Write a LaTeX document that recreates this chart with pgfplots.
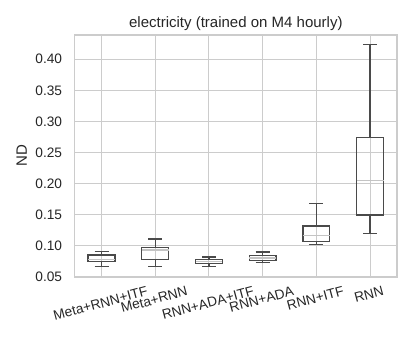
\documentclass[border=0pt]{standalone}
\usepackage{pgfplots}
\pgfplotsset{compat=1.18}
\usepgfplotslibrary{statistics}
\usepackage{fontspec}
\setmainfont{Liberation Sans}
\definecolor{txt}{HTML}{262626}
\definecolor{gridc}{HTML}{CCCCCC}
\definecolor{boxc}{HTML}{4A4A4A}
\definecolor{medc}{HTML}{C4C4C4}
\newlength\lw
\newcommand\xl[1]{\settowidth\lw{#1}\hspace*{-0.0347\lw}\raisebox{-0.134\lw}{#1}\hspace*{0.0347\lw}}
\pgfplotsset{
  mybox/.style={mark=none, solid, draw=boxc, line width=1.3pt,
    boxplot/every median/.style={draw=medc, line width=1.3pt}},
}
\begin{document}
\begin{tikzpicture}
\useasboundingbox (0pt,0pt) rectangle (413pt,344pt);
\begin{axis}[
  at={(74.7pt,67pt)}, anchor=south west,
  width=322.3pt, height=242pt, scale only axis,
  xmin=0.5, xmax=6.5, ymin=0.05, ymax=0.439,
  xtick={1,2,3,4,5,6},
  xticklabels={\xl{Meta+RNN+ITF},\xl{Meta+RNN},\xl{RNN+ADA+ITF},\xl{RNN+ADA},\xl{RNN+ITF},\xl{RNN}},
  ytick={0.05,0.10,0.15,0.20,0.25,0.30,0.35,0.40},
  yticklabel style={/pgf/number format/.cd, fixed, fixed zerofill, precision=2, /tikz/.cd, anchor=east, inner sep=0pt, xshift=-12.4pt},
  /pgf/number format/assume math mode=true,
  xticklabel style={yshift=-17.7pt, rotate=15, anchor=base, inner sep=0pt},
  tick label style={font=\fontsize{13.7}{16}\selectfont, text=txt},
  major tick length=0pt,
  grid=major,
  grid style={draw=gridc, line width=1pt},
  axis line style={draw=gridc, line width=1.25pt},
  title={electricity (trained on M4 hourly)},
  title style={at={(0.5,1)}, anchor=base, yshift=1.3pt, inner sep=0pt, font=\fontsize{15}{18}\selectfont, text=txt},
  ylabel={ND},
  every axis y label/.style={at={(axis description cs:0,0.5)}, xshift=-47.7pt, rotate=90, anchor=base, inner sep=0pt, font=\fontsize{15}{18}\selectfont, text=txt},
  boxplot/draw direction=y,
  boxplot/box extend=0.5,
  boxplot/whisker extend=0.26,
]
\addplot+[mybox, boxplot prepared={draw position=1, lower whisker=0.0667, lower quartile=0.0748, median=0.078, upper quartile=0.0854, upper whisker=0.091}] coordinates {};
\addplot+[mybox, boxplot prepared={draw position=2, lower whisker=0.0667, lower quartile=0.0785, median=0.0935, upper quartile=0.0974, upper whisker=0.111}] coordinates {};
\addplot+[mybox, boxplot prepared={draw position=3, lower whisker=0.067, lower quartile=0.072, median=0.0748, upper quartile=0.078, upper whisker=0.082}] coordinates {};
\addplot+[mybox, boxplot prepared={draw position=4, lower whisker=0.073, lower quartile=0.0764, median=0.0806, upper quartile=0.084, upper whisker=0.090}] coordinates {};
\addplot+[mybox, boxplot prepared={draw position=5, lower whisker=0.102, lower quartile=0.1065, median=0.117, upper quartile=0.132, upper whisker=0.1686}] coordinates {};
\addplot+[mybox, boxplot prepared={draw position=6, lower whisker=0.120, lower quartile=0.1497, median=0.2047, upper quartile=0.2747, upper whisker=0.4236}] coordinates {};
\end{axis}
\end{tikzpicture}
\end{document}
